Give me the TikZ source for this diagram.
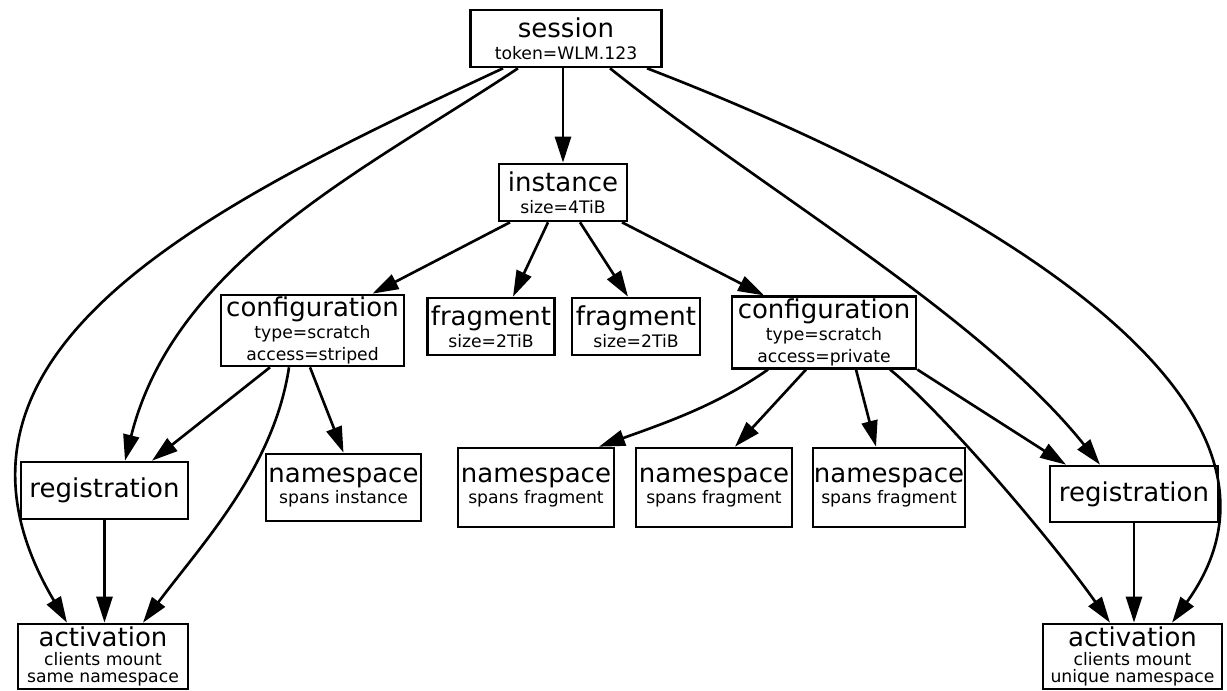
\documentclass[tikz,border=0pt]{standalone}
\usepackage{fontspec}
\setmainfont{DejaVu Sans}
\usetikzlibrary{arrows.meta}

\newcommand{\boxtitle}[1]{{\fontsize{14.8}{17}\selectfont #1}}

\begin{document}
\begin{tikzpicture}[
    box/.style={draw, line width=1.5pt, inner sep=0pt, align=center,
      font=\fontsize{9.8}{12.3}\selectfont},
    edge/.style={->, line width=1.5pt},
    >={Triangle[length=0.52cm, width=0.32cm]}
  ]
  \useasboundingbox (0,0) rectangle (24.54,13.8);

  % top of the tree
  \node[box, minimum width=3.82cm, minimum height=1.14cm] (session) at (11.32,13.03)
    {\boxtitle{session}\\token=WLM.123};
  \node[box, minimum width=2.56cm, minimum height=1.14cm] (instance) at (11.26,9.95)
    {\boxtitle{instance}\\size=4TiB};

  % second row
  \node[box, minimum width=3.66cm, minimum height=1.42cm] (confA) at (6.25,7.19)
    {\boxtitle{configuration}\\type=scratch\\access=striped};
  \node[box, minimum width=2.54cm, minimum height=1.14cm] (fragA) at (9.82,7.27)
    {\boxtitle{fragment}\\size=2TiB};
  \node[box, minimum width=2.56cm, minimum height=1.14cm] (fragB) at (12.72,7.27)
    {\boxtitle{fragment}\\size=2TiB};
  \node[box, minimum width=3.68cm, minimum height=1.43cm] (confB) at (16.48,7.15)
    {\boxtitle{configuration}\\type=scratch\\access=private};

  % third row
  \node[box, minimum width=3.34cm, minimum height=1.14cm] (regA) at (2.09,3.99)
    {\boxtitle{registration}};
  \node[box, minimum width=3.1cm, minimum height=1.34cm] (nsA) at (6.87,4.05)
    {\boxtitle{namespace}\\spans instance};
  \node[box, minimum width=3.12cm, minimum height=1.58cm] (nsB1) at (10.72,4.05)
    {\boxtitle{namespace}\\spans fragment};
  \node[box, minimum width=3.12cm, minimum height=1.58cm] (nsB2) at (14.28,4.05)
    {\boxtitle{namespace}\\spans fragment};
  \node[box, minimum width=3.04cm, minimum height=1.58cm] (nsB3) at (17.78,4.05)
    {\boxtitle{namespace}\\spans fragment};
  \node[box, minimum width=3.36cm, minimum height=1.12cm] (regB) at (22.68,3.92)
    {\boxtitle{registration}};

  % bottom row
  \node[box, minimum width=3.4cm, minimum height=1.3cm] (actA) at (2.06,0.67)
    {\boxtitle{activation}\\[-1.5pt]clients mount\\[-2.8pt]same namespace};
  \node[box, minimum width=3.58cm, minimum height=1.3cm] (actB) at (22.65,0.67)
    {\boxtitle{activation}\\[-1.5pt]clients mount\\[-2.8pt]unique namespace};

  % edges out of the session
  \draw[edge] (session.south -| instance.north) -- (instance.north);
  \draw[edge] ([xshift=-1.26cm]session.south) .. controls +(-6.0,-2.8) and +(-3.2,5.4) .. ([xshift=-0.72cm]actA.north);
  \draw[edge] ([xshift=-0.96cm]session.south) .. controls +(-3.0,-2.0) and +(1.0,4.0) .. ([xshift=0.41cm]regA.north);
  \draw[edge] ([xshift=0.88cm]session.south) .. controls +(3.0,-2.4) and +(-2.4,3.0) .. ([xshift=-0.68cm]regB.north);
  \draw[edge] ([xshift=1.62cm]session.south) .. controls +(5.2,-2.0) and +(3.46,4.8) .. ([xshift=0.79cm]actB.north);

  % edges out of the instance
  \draw[edge] ([xshift=-1.06cm]instance.south) -- ([xshift=1.2cm]confA.north);
  \draw[edge] ([xshift=-0.3cm]instance.south) -- ([xshift=0.44cm]fragA.north);
  \draw[edge] ([xshift=0.34cm]instance.south) -- ([xshift=-0.16cm]fragB.north);
  \draw[edge] ([xshift=1.18cm]instance.south) -- ([xshift=-1.2cm]confB.north);

  % striped configuration
  \draw[edge] ([xshift=-0.85cm]confA.south) -- ([xshift=0.95cm]regA.north);
  \draw[edge] ([xshift=-0.47cm]confA.south) .. controls +(-0.3,-2.0) and +(1.2,1.6) .. ([xshift=0.8cm]actA.north);
  \draw[edge] ([xshift=-0.05cm]confA.south) -- (nsA.north);
  \draw[edge] (regA.south) -- (regA.south |- actA.north);

  % private configuration
  \draw[edge] ([xshift=-1.12cm]confB.south) .. controls +(-1.0,-0.7) and +(1.4,0.5) .. ([xshift=1.26cm]nsB1.north);
  \draw[edge] ([xshift=-0.36cm]confB.south) -- ([xshift=0.42cm]nsB2.north);
  \draw[edge] ([xshift=0.64cm]confB.south) -- ([xshift=-0.26cm]nsB3.north);
  \draw[edge] (confB.south east) -- ([xshift=-1.36cm]regB.north);
  \draw[edge] ([xshift=1.32cm]confB.south) .. controls +(1.0,-0.8) and +(-1.2,1.7) .. ([xshift=-0.45cm]actB.north);
  \draw[edge] (regB.south) -- (regB.south |- actB.north);
\end{tikzpicture}
\end{document}
